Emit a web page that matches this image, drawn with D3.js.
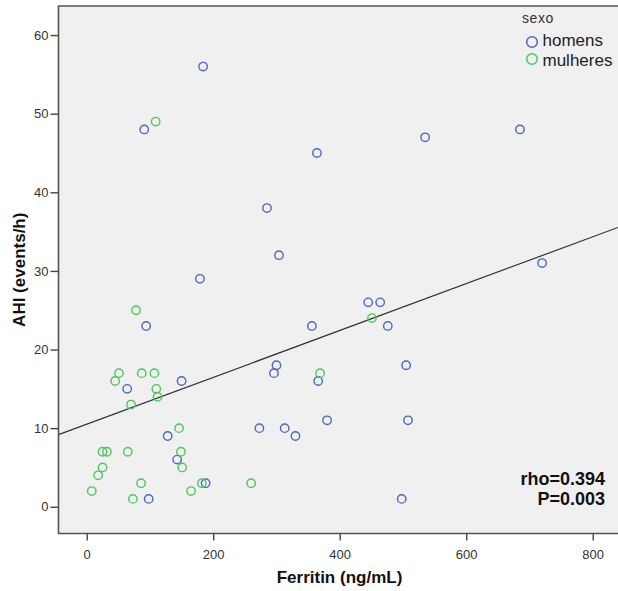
<!DOCTYPE html>
<html>
<head>
<meta charset="utf-8">
<script src="https://cdn.jsdelivr.net/npm/d3@7"></script>
<style>
  html, body { margin: 0; padding: 0; background: #fff; }
  svg { display: block; font-family: "Liberation Sans", Arial, sans-serif; }
</style>
</head>
<body>
<div id="chart"></div>
<script>
// homens (men)
const menFerritin = [184, 91, 535, 685, 364, 285, 304, 720, 179, 94, 356, 445, 464, 476, 300,
  296, 366, 505, 380, 508, 273, 313, 330, 498, 150, 64, 128, 143, 188, 98];
const menAHI = [56, 48, 47, 48, 45, 38, 32, 31, 29, 23, 23, 26, 26, 23, 18,
  17, 16, 18, 11, 11, 10, 10, 9, 1, 16, 15, 9, 6, 3, 1];

// mulheres (women)
const womenFerritin = [109, 78, 51, 45, 87, 107, 110, 112, 70, 146, 25, 32, 65, 149, 25,
  18, 151, 86, 182, 260, 8, 165, 73, 451, 369];
const womenAHI = [49, 25, 17, 16, 17, 17, 15, 14, 13, 10, 7, 7, 7, 7, 5,
  4, 5, 3, 3, 3, 2, 2, 1, 24, 17];

const xTicks = [0, 200, 400, 600, 800];
const yTicks = [0, 10, 20, 30, 40, 50, 60];
const fitIntercept = 10.5, fitSlope = 0.0298;
const statLines = ['rho=0.394', 'P=0.003'];
const groups = ['homens', 'mulheres'];

const W = 618, H = 591;
const plot = { left: 58.5, top: 6, right: 618, bottom: 533.5 };
const colors = { homens: '#5064c0', mulheres: '#4cc75c' };

const svg = d3.select('#chart').append('svg')
  .attr('width', W).attr('height', H);

const x = d3.scaleLinear().domain([-44.6, 840]).range([plot.left, plot.left + (840 + 44.6) * 0.6325]);
const y = d3.scaleLinear().domain([-3.4, 63.7]).range([plot.bottom, plot.top]);

svg.append('rect')
  .attr('x', plot.left).attr('y', plot.top)
  .attr('width', plot.right - plot.left).attr('height', plot.bottom - plot.top)
  .attr('fill', '#f0f0f0');

// fit line
const fitLine = d3.line().x((d) => x(d)).y((d) => y(fitIntercept + fitSlope * d));
svg.append('path')
  .attr('d', fitLine(x.domain()))
  .attr('fill', 'none').attr('stroke', '#333').attr('stroke-width', 1.2);

// points
function drawPoints(fx, fy, color) {
  svg.append('g').selectAll('circle')
    .data(fx.map((f, i) => [f, fy[i]]))
    .join('circle')
    .attr('cx', (d) => x(d[0])).attr('cy', (d) => y(d[1]))
    .attr('r', 4.2)
    .attr('fill', 'none').attr('stroke', color).attr('stroke-width', 1.4);
}
drawPoints(menFerritin, menAHI, colors.homens);
drawPoints(womenFerritin, womenAHI, colors.mulheres);

// frame
svg.append('path')
  .attr('d', `M${plot.right},${plot.top}H${plot.left}V${plot.bottom}H${plot.right}`)
  .attr('fill', 'none').attr('stroke', '#555').attr('stroke-width', 1.6);

// axes
const xAxisG = svg.append('g').attr('transform', `translate(0,${plot.bottom})`)
  .call(d3.axisBottom(x).tickValues(xTicks).tickSize(7).tickPadding(9));
const yAxisG = svg.append('g').attr('transform', `translate(${plot.left},0)`)
  .call(d3.axisLeft(y).tickValues(yTicks).tickSize(8).tickPadding(2));
[xAxisG, yAxisG].forEach((ax) => {
  ax.select('.domain').remove();
  ax.selectAll('line').attr('stroke', '#444').attr('stroke-width', 1.4);
  ax.selectAll('text').attr('fill', '#333').attr('font-size', 13)
    .attr('font-family', '"Liberation Sans", Arial, sans-serif');
});

// axis titles
svg.append('text')
  .attr('x', 339.5).attr('y', 583)
  .attr('text-anchor', 'middle').attr('font-size', 17).attr('font-weight', 'bold')
  .attr('fill', '#111').text('Ferritin (ng/mL)');
svg.append('text')
  .attr('transform', `translate(25,${(plot.top + plot.bottom) / 2}) rotate(-90)`)
  .attr('text-anchor', 'middle').attr('font-size', 17).attr('font-weight', 'bold')
  .attr('fill', '#111').text('AHI (events/h)');

// legend
svg.append('text').attr('x', 522).attr('y', 23)
  .attr('font-size', 14).attr('letter-spacing', 0.6).attr('fill', '#333').text('sexo');
groups.forEach((g, i) => {
  svg.append('circle')
    .attr('cx', 532).attr('cy', 42 + i * 17).attr('r', 5.3)
    .attr('fill', 'none').attr('stroke', colors[g]).attr('stroke-width', 1.5);
  svg.append('text')
    .attr('x', 542.5).attr('y', 46 + i * 19.5)
    .attr('font-size', 17).attr('fill', '#222').text(g);
});

// statistics
svg.append('g').selectAll('text')
  .data(statLines)
  .join('text')
  .attr('x', 605).attr('y', (d, i) => 485 + i * 20)
  .attr('text-anchor', 'end').attr('font-size', 18).attr('font-weight', 'bold')
  .attr('fill', '#111').text((d) => d);
</script>
</body>
</html>
